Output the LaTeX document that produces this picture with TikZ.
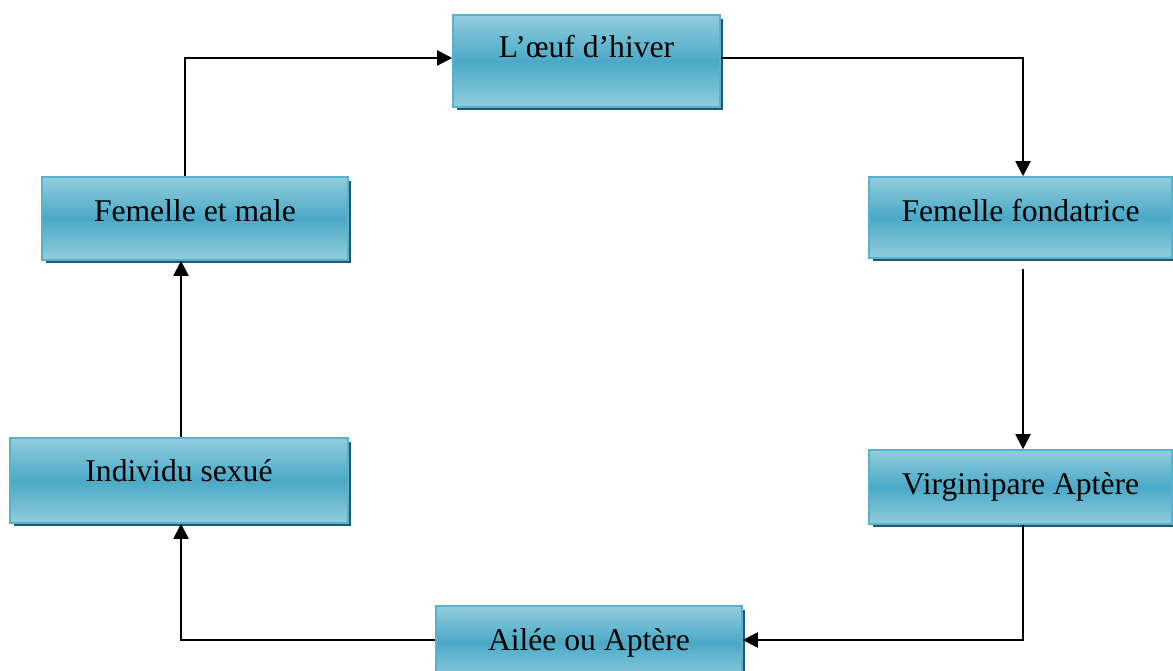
\documentclass[tikz,border=0pt]{standalone}
\usepackage{fontspec}
\setmainfont{Liberation Serif}
\usepackage{xcolor}
\usetikzlibrary{positioning,shadows,arrows.meta}
\definecolor{stagelight}{RGB}{146,205,221}
\definecolor{stagemid}{RGB}{74,169,199}
\definecolor{stageedge}{RGB}{88,178,205}
\definecolor{stageshadow}{RGB}{33,90,106}
\tikzset{
  stage/.style={
    shape = rectangle,
    draw = stageedge,
    line width = 0.9pt,
    top color = stagelight,
    bottom color = stagelight,
    middle color = stagemid,
    general shadow = {shadow xshift=0.07cm, shadow yshift=-0.07cm, fill=stageshadow},
    font = \fontsize{18}{21}\selectfont,
    inner sep = 0pt
  },
  link/.style={
    line width = 1.1pt,
    -{Triangle[length=0.3cm,width=0.3cm]}
  },
}
\begin{document}
\begin{tikzpicture}[x=0.02cm,y=-0.02cm]
    \useasboundingbox (0,0) rectangle (1173,671);
    \node[stage, minimum width=5.34cm, minimum height=1.84cm, text depth=0.59cm] (oeuf) at (586.5,61) {L’œuf d’hiver};
    \node[stage, minimum width=6.06cm, minimum height=1.62cm, text depth=0.28cm] (fondatrice) at (1020.5,217.5) {Femelle fondatrice};
    \node[stage, minimum width=6.06cm, minimum height=1.48cm] (virginipare) at (1020.5,487) {Virginipare Aptère};
    \node[stage, minimum width=6.12cm, minimum height=1.48cm] (ailee) at (589,643) {Ailée ou Aptère};
    \node[stage, minimum width=6.76cm, minimum height=1.70cm, text depth=0.4cm] (sexue) at (179,480.5) {Individu sexué};
    \node[stage, minimum width=6.12cm, minimum height=1.66cm, text depth=0.32cm] (couple) at (195,218.5) {Femelle et male};
    % cycle
    \draw[link] ([xshift=-0.2cm]couple.north) |- ([yshift=0.06cm]oeuf.west);
    \draw[link] ([yshift=0.06cm]oeuf.east) -| ([xshift=0.05cm]fondatrice.north);
    \draw[link] ([xshift=0.05cm,yshift=-0.2cm]fondatrice.south) -- ([xshift=0.05cm]virginipare.north);
    \draw[link] ([xshift=0.05cm]virginipare.south) |- ([yshift=0.06cm]ailee.east);
    \draw[link] ([yshift=0.06cm]ailee.west) -| ([xshift=0.04cm]sexue.south);
    \draw[link] ([xshift=0.04cm]sexue.north) -- ([xshift=0.04cm]sexue.north |- couple.south);
\end{tikzpicture}
\end{document}
